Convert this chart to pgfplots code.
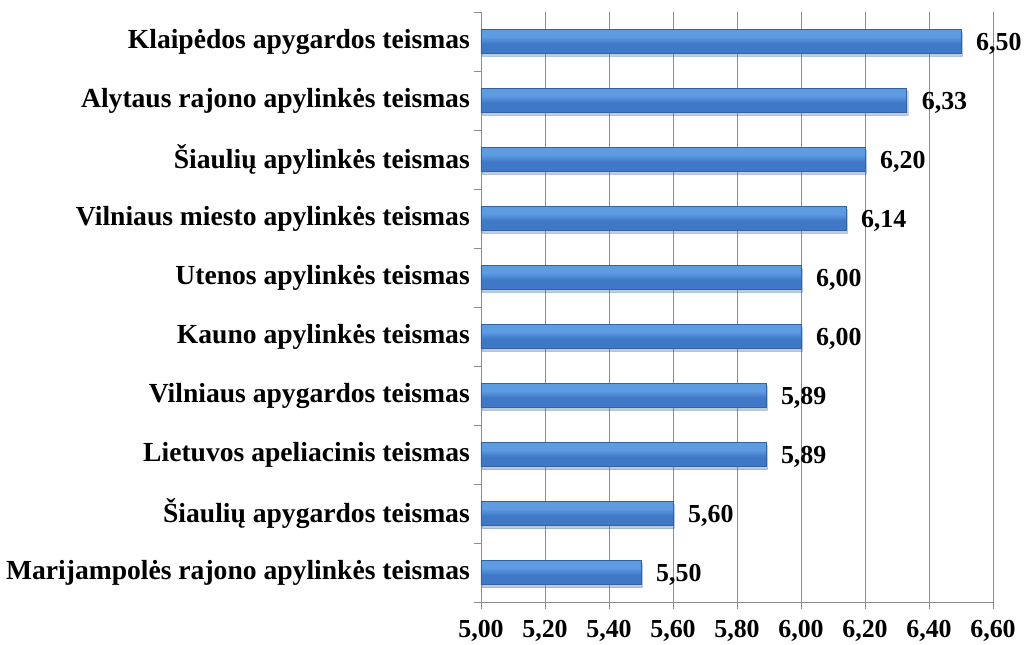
\documentclass[border=0pt]{standalone}
\usepackage{pgfplots}
\pgfplotsset{compat=1.18}
\usepackage{fontspec}
\setmainfont{Liberation Serif}
\usetikzlibrary{shadows}
\definecolor{gridgray}{HTML}{8C8C8C}
\definecolor{bartop}{HTML}{9CC6F2}
\definecolor{barhigh}{HTML}{5E9CE2}
\definecolor{barlow}{HTML}{3F78C6}
\definecolor{barbot}{HTML}{2C5894}
\definecolor{baredge}{HTML}{34639F}
\pgfdeclareverticalshading{barshade}{100bp}{color(0bp)=(barbot); color(12bp)=(barlow); color(45bp)=(barlow); color(60bp)=(barhigh); color(85bp)=(barhigh); color(100bp)=(bartop)}
\pgfplotsset{mybar/.style={xbar, bar width=24bp, draw=baredge, line width=0.5bp,
  shading=barshade,
  drop shadow={shadow xshift=1.5bp, shadow yshift=-3bp, opacity=0.22},
  point meta=x,
  nodes near coords,
  nodes near coords style={font=\bfseries\fontsize{26}{26}\selectfont, anchor=west, inner sep=0pt, xshift=15bp, yshift=-2bp, black}}}
\begin{document}
\begin{tikzpicture}
\path[use as bounding box] (-481bp,-43bp) rectangle (547bp,602bp);
\begin{axis}[
  at={(0,0)}, anchor=south west,
  scale only axis, width=512bp, height=590bp,
  xmin=5, xmax=6.6, ymin=-0.5, ymax=9.5,
  clip mode=individual,
  axis x line*=bottom, axis y line*=left,
  axis line style={gridgray, line width=0.9bp},
  xmajorgrids, major grid style={gridgray, line width=0.9bp},
  tick align=outside,
  tick style={gridgray, line width=0.9bp},
  major tick length=7bp,
  xtick={5,5.2,5.4,5.6,5.8,6,6.2,6.4,6.6},
  ytick={-0.5,0.5,...,9.5}, yticklabels=\empty,
  extra y ticks={0,1,2,3,4,5,6,7,8,9},
  extra y tick labels={Marijampolės rajono apylinkės teismas,Šiaulių apygardos teismas,Lietuvos apeliacinis teismas,Vilniaus apygardos teismas,Kauno apylinkės teismas,Utenos apylinkės teismas,Vilniaus miesto apylinkės teismas,Šiaulių apylinkės teismas,Alytaus rajono apylinkės teismas,Klaipėdos apygardos teismas},
  extra y tick style={major tick length=0pt, ymajorgrids=false,
     yticklabel style={font=\bfseries\fontsize{27.7}{28}\selectfont, inner sep=0pt, xshift=-11bp}},
  xticklabel style={font=\bfseries\fontsize{26}{26}\selectfont, yshift=-8bp},
  /pgf/number format/assume math mode=true,
  /pgf/number format/.cd, use comma, fixed, fixed zerofill, precision=2,
  /pgfplots/.cd,
]
\addplot[mybar] coordinates {(5.50,0)};
\addplot[mybar] coordinates {(5.60,1)};
\addplot[mybar] coordinates {(5.89,2)};
\addplot[mybar] coordinates {(5.89,3)};
\addplot[mybar] coordinates {(6.00,4)};
\addplot[mybar] coordinates {(6.00,5)};
\addplot[mybar] coordinates {(6.14,6)};
\addplot[mybar] coordinates {(6.20,7)};
\addplot[mybar] coordinates {(6.33,8)};
\addplot[mybar] coordinates {(6.50,9)};
\end{axis}
\end{tikzpicture}
\end{document}
